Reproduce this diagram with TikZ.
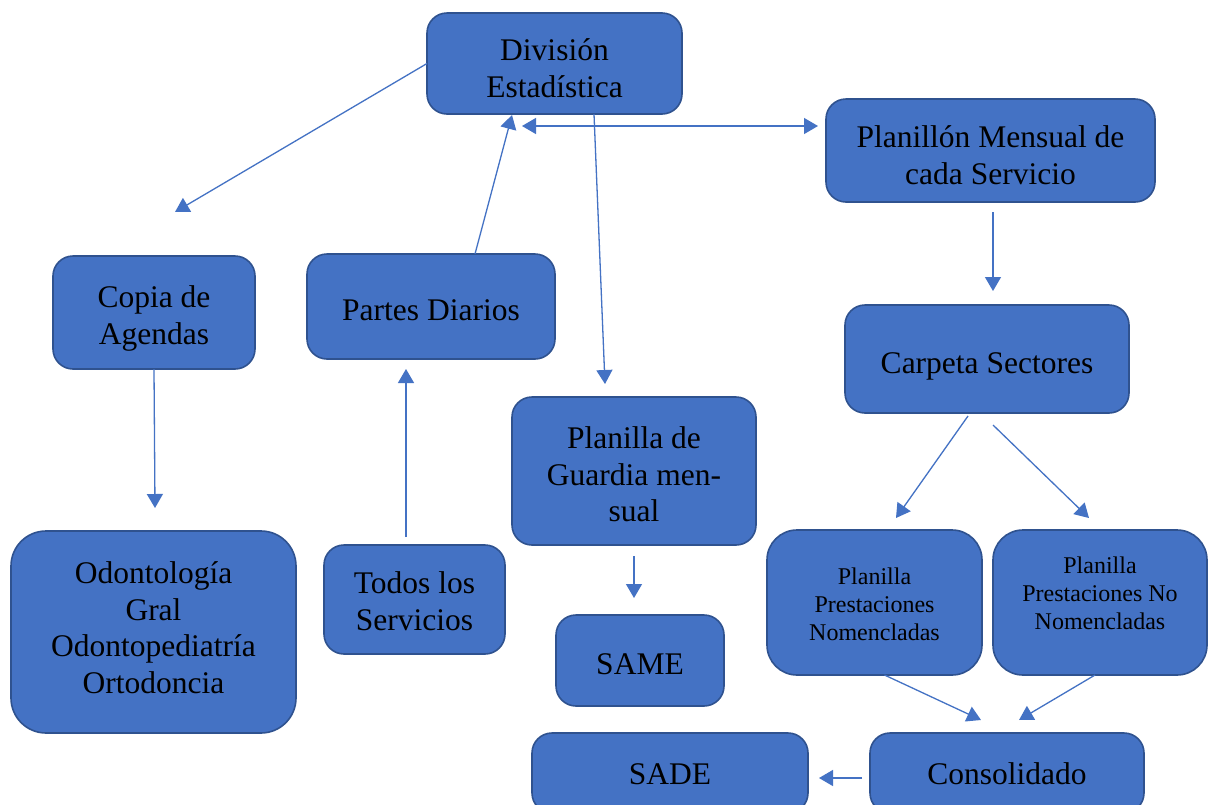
\documentclass[tikz,border=0pt]{standalone}
\usepackage{fontspec}
\setmainfont{Liberation Serif}
\usetikzlibrary{arrows.meta}
\definecolor{boxblue}{HTML}{4472C4}
\definecolor{boxedge}{HTML}{2F528F}
\definecolor{linkblue}{HTML}{4472C4}
% shift the text of a box down (negative) or up (positive) without changing the box
\newcommand{\boxtext}[2]{\raisebox{#1}[\height][\depth]{\begin{tabular}{@{}c@{}}#2\end{tabular}}}
\tikzset{
  box/.style={draw=boxedge, fill=boxblue, line width=1.6pt, rounded corners=20pt,
    inner sep=0pt, outer sep=0pt, align=center, text=black,
    font=\fontsize{31.5}{36.5}\selectfont},
  smallbox/.style={box, rounded corners=30pt, font=\fontsize{24}{28}\selectfont},
  link/.style={draw=linkblue, line width=1.3pt, -{Triangle[length=14pt,width=16pt]}},
  dlink/.style={draw=linkblue, line width=1.3pt, {Triangle[length=14pt,width=16pt]}-{Triangle[length=14pt,width=16pt]}}
}
\begin{document}
\begin{tikzpicture}[x=1pt,y=-1pt]
\useasboundingbox[fill=white] (0,0) rectangle (1208,804);
% boxes
\node[box, minimum width=255pt, minimum height=101pt] (div) at (554.5,63.5) {\boxtext{-8pt}{División\\Estadística}};
\node[box, minimum width=329pt, minimum height=103pt] (plan) at (990.5,150.5) {\boxtext{-8pt}{Planillón Mensual de\\cada Servicio}};
\node[box, minimum width=202pt, minimum height=113pt] (copia) at (154,312.5) {\boxtext{-6pt}{Copia de\\Agendas}};
\node[box, minimum width=248pt, minimum height=105pt] (partes) at (431,306.5) {\boxtext{-7pt}{Partes Diarios}};
\node[box, minimum width=284pt, minimum height=108pt] (carpeta) at (987,359) {\boxtext{-7pt}{Carpeta Sectores}};
\node[box, minimum width=244pt, minimum height=148pt] (guardia) at (634,471) {\boxtext{-7pt}{Planilla de\\Guardia men-\\sual}};
\node[box, rounded corners=35pt, minimum width=285pt, minimum height=202pt] (odonto) at (153.5,632) {\boxtext{1pt}{Odontología\\Gral\\Odontopediatría\\Ortodoncia}};
\node[box, minimum width=181pt, minimum height=109pt] (todos) at (414.5,599.5) {\boxtext{-5pt}{Todos los\\Servicios}};
\node[box, minimum width=168pt, minimum height=91pt] (same) at (640,660.5) {\boxtext{-7pt}{SAME}};
\node[smallbox, minimum width=215pt, minimum height=145pt] (nom) at (874.5,602.5) {\boxtext{-4pt}{Planilla\\Prestaciones\\Nomencladas}};
\node[smallbox, minimum width=214pt, minimum height=145pt] (nonom) at (1100,602.5) {\boxtext{7pt}{Planilla\\Prestaciones No\\Nomencladas}};
\node[box, minimum width=276pt, minimum height=80pt] (sade) at (670,773) {\boxtext{-4pt}{SADE}};
\node[box, minimum width=274pt, minimum height=80pt] (consol) at (1007,773) {\boxtext{-4pt}{Consolidado}};
% free ends
\coordinate (t1) at (175,212);
\coordinate (t2) at (512,115);
\coordinate (d1) at (522,126);
\coordinate (d2) at (818,126);
\coordinate (t3) at (605,384);
\coordinate (s4) at (993,212);
\coordinate (t4) at (993,291);
\coordinate (s5) at (968,416);
\coordinate (t5) at (896,518);
\coordinate (s6) at (993,425);
\coordinate (t6) at (1089,518);
\coordinate (t7) at (155,508);
\coordinate (s8) at (406,537);
\coordinate (t8) at (406,369);
\coordinate (s9) at (634,556);
\coordinate (t9) at (634,598);
\coordinate (t10) at (981,720);
\coordinate (t11) at (1019,720);
\coordinate (s12) at (862,778);
\coordinate (t12) at (819,778);
% connectors
\draw[link] (div.west) -- (t1);
\draw[link] ([xshift=44pt]partes.north) -- (t2);
\draw[dlink] (d1) -- (d2);
\draw[link] ([xshift=39.5pt]div.south) -- (t3);
\draw[link] (s4) -- (t4);
\draw[link] (s5) -- (t5);
\draw[link] (s6) -- (t6);
\draw[link] (copia.south) -- (t7);
\draw[link] (s8) -- (t8);
\draw[link] (s9) -- (t9);
\draw[link] ([xshift=10pt]nom.south) -- (t10);
\draw[link] ([xshift=-5pt]nonom.south) -- (t11);
\draw[link] (s12) -- (t12);
\end{tikzpicture}
\end{document}
